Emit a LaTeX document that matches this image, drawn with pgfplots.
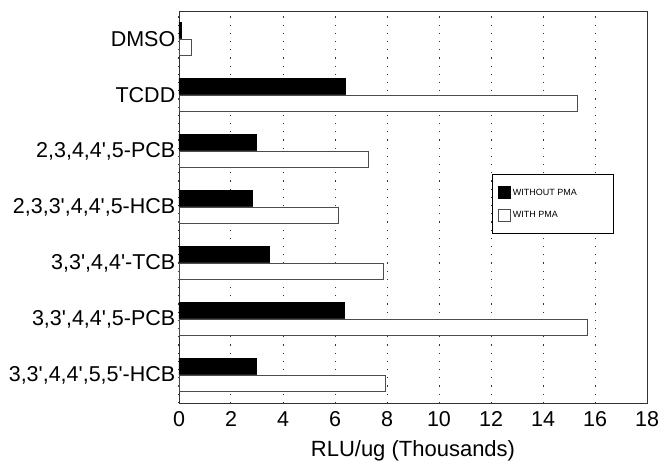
\documentclass[border=0pt]{standalone}
\usepackage{pgfplots}
\pgfplotsset{compat=1.18}
\usepackage{fontspec}
\setmainfont{Liberation Sans}
\newcommand{\q}{\textquotesingle}
\begin{document}
\begin{tikzpicture}[x=1pt,y=1pt]
\begin{axis}[
  scale only axis,
  width=468pt, height=392pt,
  xmin=0, xmax=18,
  ymin=-0.5, ymax=6.5,
  xtick={0,2,...,18},
  ytick={0,1,2,3,4,5,6},
  yticklabels={{3,3\q,4,4\q,5,5\q-HCB},{3,3\q,4,4\q,5-PCB},{3,3\q,4,4\q-TCB},{2,3,3\q,4,4\q,5-HCB},{2,3,4,4\q,5-PCB},TCDD,DMSO},
  major tick length=0pt,
  /pgf/number format/assume math mode=true,
  xticklabel style={font=\fontsize{21.5}{24}\selectfont, yshift=-5pt},
  yticklabel style={font=\fontsize{21.5}{24}\selectfont, inner xsep=3.5pt},
  xlabel={RLU/ug (Thousands)},
  xlabel style={font=\fontsize{22}{24}\selectfont, yshift=-7pt},
  xmajorgrids,
  major grid style={dash pattern=on 1.2pt off 7pt, black!80, line width=1pt},
  axis line style={black!80, line width=0.8pt},
  xbar,
  bar width=0.3,
  legend cell align=left,
  legend style={at={(0.669,0.584)}, anchor=north west, draw=black, line width=0.6pt,
    font=\fontsize{9}{10}\selectfont, inner xsep=6pt, inner ysep=12pt, row sep=10pt},
  legend image code/.code={\draw[#1, line width=0.5pt] (0pt,-6pt) rectangle (12pt,6pt);},
]
\addplot[fill=black, draw=black, bar shift=0.15] coordinates {
  (2.97,0) (6.37,1) (3.48,2) (2.83,3) (2.97,4) (6.41,5) (0.1,6)
};
\addlegendentry{\makebox[92pt][l]{WITHOUT PMA}}
\addplot[fill=white, draw=black!70, line width=0.8pt, bar shift=-0.15] coordinates {
  (7.94,0) (15.70,1) (7.87,2) (6.12,3) (7.30,4) (15.32,5) (0.46,6)
};
\addlegendentry{\makebox[92pt][l]{WITH PMA}}
\end{axis}
\pgfresetboundingbox
\path ([xshift=-179pt,yshift=-59pt]current axis.south west) rectangle ([xshift=13pt,yshift=11pt]current axis.north east);
\end{tikzpicture}
\end{document}
